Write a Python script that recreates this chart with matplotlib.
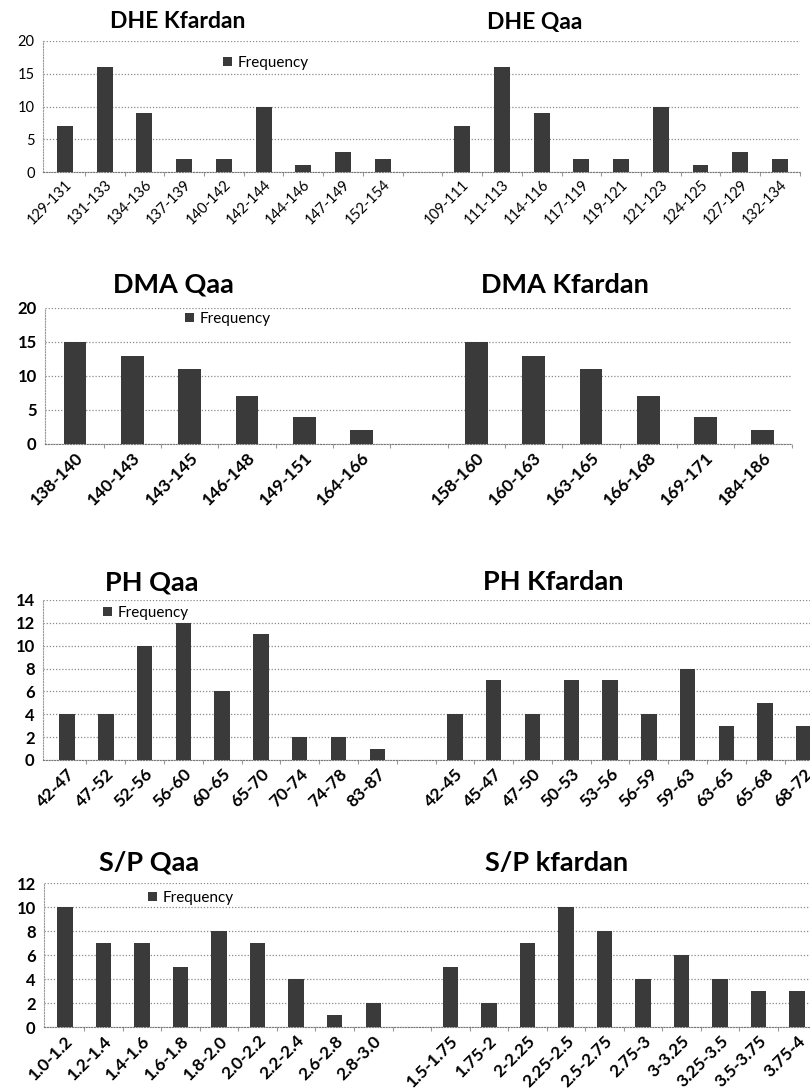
import numpy as np
import matplotlib.pyplot as plt

plt.rcParams['font.family'] = ['Lato', 'DejaVu Sans']

# DHE row
dhe_kf_labels = ["129-131", "131-133", "134-136", "137-139", "140-142",
                 "142-144", "144-146", "147-149", "152-154"]
dhe_kf_freq = [7, 16, 9, 2, 2, 10, 1, 3, 2]
dhe_qaa_labels = ["109-111", "111-113", "114-116", "117-119", "119-121",
                  "121-123", "124-125", "127-129", "132-134"]
dhe_qaa_freq = [7, 16, 9, 2, 2, 10, 1, 3, 2]

# DMA row
dma_qaa_labels = ["138-140", "140-143", "143-145", "146-148", "149-151", "164-166"]
dma_qaa_freq = [15, 13, 11, 7, 4, 2]
dma_kf_labels = ["158-160", "160-163", "163-165", "166-168", "169-171", "184-186"]
dma_kf_freq = [15, 13, 11, 7, 4, 2]

# PH row
ph_qaa_labels = ["42-47", "47-52", "52-56", "56-60", "60-65", "65-70",
                 "70-74", "74-78", "83-87"]
ph_qaa_freq = [4, 4, 10, 12, 6, 11, 2, 2, 1]
ph_kf_labels = ["42-45", "45-47", "47-50", "50-53", "53-56", "56-59",
                "59-63", "63-65", "65-68", "68-72"]
ph_kf_freq = [4, 7, 4, 7, 7, 4, 8, 3, 5, 3]

# S/P row
sp_qaa_labels = ["1.0-1.2", "1.2-1.4", "1.4-1.6", "1.6-1.8", "1.8-2.0",
                 "2.0-2.2", "2.2-2.4", "2.6-2.8", "2.8-3.0"]
sp_qaa_freq = [10, 7, 7, 5, 8, 7, 4, 1, 2]
sp_kf_labels = ["1.5-1.75", "1.75-2", "2-2.25", "2.25-2.5", "2.5-2.75",
                "2.75-3", "3-3.25", "3.25-3.5", "3.5-3.75", "3.75-4"]
sp_kf_freq = [5, 2, 7, 10, 8, 4, 6, 4, 3, 3]

W, H = 810, 1091
fig = plt.figure(figsize=(W / 100, H / 100), dpi=100)

# each row is one category axis: left group, an empty slot, right group
rows = [
    dict(titles=("DHE Kfardan", "DHE Qaa"), left=(dhe_kf_labels, dhe_kf_freq),
         right=(dhe_qaa_labels, dhe_qaa_freq), ymax=20, ystep=5,
         L=43, top=41, bot=172, c0=65, s=39.83, xmax=18.45,
         ty=22, tx=(178, 535), tsize=16.5, leg=(215, 63), bold=False, fs=10.5, ys=10.5),
    dict(titles=("DMA Qaa", "DMA Kfardan"), left=(dma_qaa_labels, dma_qaa_freq),
         right=(dma_kf_labels, dma_kf_freq), ymax=20, ystep=5,
         L=45, top=308, bot=444, c0=75, s=57.33, xmax=12.5,
         ty=285, tx=(173, 565), tsize=19.5, leg=(177, 319), bold=True, fs=12.5, ys=12),
    dict(titles=("PH Qaa", "PH Kfardan"), left=(ph_qaa_labels, ph_qaa_freq),
         right=(ph_kf_labels, ph_kf_freq), ymax=14, ystep=2,
         L=43, top=600, bot=760, c0=67, s=38.79, xmax=19.5,
         ty=582, tx=(152, 553), tsize=19.5, leg=(95, 613), bold=True, fs=12.5, ys=12),
    dict(titles=("S/P Qaa", "S/P kfardan"), left=(sp_qaa_labels, sp_qaa_freq),
         right=(sp_kf_labels, sp_kf_freq), ymax=12, ystep=2,
         L=44, top=883, bot=1027, c0=65, s=38.53, xmax=19.5,
         ty=863, tx=(149, 557), tsize=19.5, leg=(140, 898), bold=True, fs=12.5, ys=12),
]

bar_color = "#3a3a3a"
grid_color = "#8a8a8a"

for r in rows:
    labels = list(r["left"][0]) + [""] + list(r["right"][0])
    freq = list(r["left"][1]) + [np.nan] + list(r["right"][1])
    x = np.arange(len(labels))

    xmin = -(r["c0"] - r["L"]) / r["s"]
    width_px = (r["xmax"] - xmin) * r["s"]
    ax = fig.add_axes([r["L"] / W, 1 - r["bot"] / H, width_px / W, (r["bot"] - r["top"]) / H])

    ax.bar(x, freq, width=0.4, color=bar_color, label="Frequency", zorder=3)
    ax.set_xlim(xmin, r["xmax"])
    ax.set_ylim(0, r["ymax"])
    ax.set_yticks(np.arange(0, r["ymax"] + 1, r["ystep"]))
    ax.yaxis.grid(True, linestyle=(0, (1, 1.5)), color=grid_color, linewidth=0.9, zorder=0)

    weight = "bold" if r["bold"] else "normal"
    ax.set_xticks(x)
    ax.set_xticklabels(labels, rotation=45, ha="right", rotation_mode="anchor",
                       fontsize=r["fs"], fontweight=weight)
    ax.set_xticks(np.arange(len(labels)) + 0.5, minor=True)
    ax.tick_params(axis="x", which="major", length=0, pad=4)
    ax.tick_params(axis="x", which="minor", length=3, color="#999999", width=0.8)
    ax.tick_params(axis="y", length=0, pad=6, labelsize=r["ys"])
    for t in ax.get_yticklabels():
        t.set_fontweight(weight)

    for side in ("top", "right"):
        ax.spines[side].set_visible(False)
    ax.spines["left"].set_linestyle((0, (1, 1.5)))
    ax.spines["left"].set_color("#999999")
    ax.spines["bottom"].set_linestyle((0, (1, 1.5)))
    ax.spines["bottom"].set_color("#777777")

    for title, tx in zip(r["titles"], r["tx"]):
        fig.text(tx / W, 1 - r["ty"] / H, title, ha="center", va="center",
                 fontsize=r["tsize"], fontweight="bold")

    ax.legend(loc="center left", bbox_to_anchor=(r["leg"][0] / W, 1 - r["leg"][1] / H),
              bbox_transform=fig.transFigure, frameon=False, handlelength=0.6,
              handleheight=0.6, handletextpad=0.35, borderpad=0,
              prop={"size": 11, "family": ["Lato", "DejaVu Sans"]})

fig.savefig("out.png", dpi=100)
